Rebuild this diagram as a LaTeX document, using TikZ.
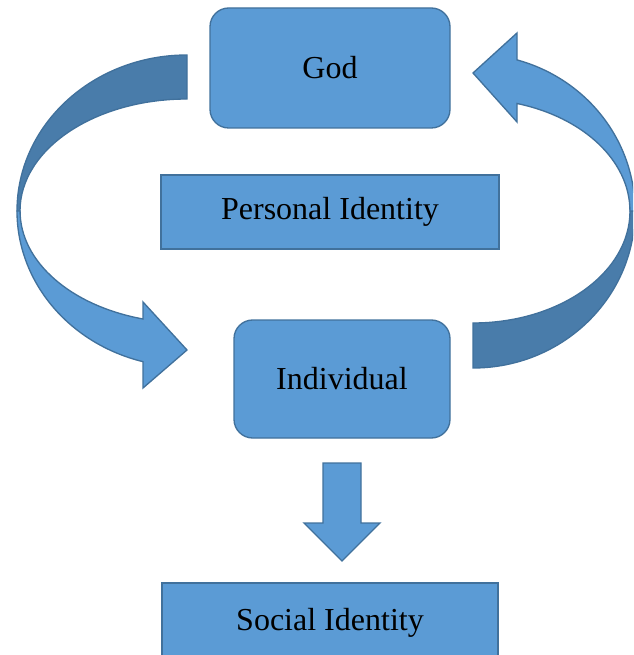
\documentclass[tikz,border=0pt]{standalone}
\usepackage{fontspec}
\setmainfont{Liberation Serif}
\usetikzlibrary{positioning}
\definecolor{boxblue}{HTML}{5B9BD5}
\definecolor{edgeblue}{HTML}{41719C}
\colorlet{backblue}{boxblue!80!black}

\begin{document}
\begin{tikzpicture}[x=0.75pt, y=-0.75pt,
    box/.style={draw=edgeblue, fill=boxblue, line width=1pt, inner sep=0pt,
        font=\fontsize{24}{29}\selectfont},
    roundbox/.style={box, rounded corners=14pt},
    band/.style={draw=edgeblue, line width=1pt}]
    \useasboundingbox (0,0) rectangle (633,655);
    \clip (0,0) rectangle (633,655);

    \node[roundbox, minimum width=180pt, minimum height=90pt] (G) at (330,68) {God};
    \node[box, minimum width=253.5pt, minimum height=55.5pt] (P) at (330,212) {Personal Identity};
    \node[roundbox, minimum width=162pt, minimum height=88.5pt] (I) at (342,379) {Individual};
    \node[box, minimum width=252pt, minimum height=60pt] (S) at (330,623) {Social Identity};

    % left arrow: back side, then front side with head
    \filldraw[band, fill=backblue] (187,55)
        arc[start angle=270, end angle=180, x radius=170, y radius=156] -- (20,211)
        arc[start angle=180, end angle=270, x radius=167, y radius=112] -- cycle;
    \filldraw[band, fill=boxblue] (17,211)
        arc[start angle=180, end angle=105, x radius=170, y radius=156]
        -- (143,388) -- (187,350) -- (143,302) -- (143,319)
        arc[start angle=105.3, end angle=180, x radius=167, y radius=112] -- cycle;

    % right arrow
    \filldraw[band, fill=backblue] (473,368)
        arc[start angle=90, end angle=0, x radius=162, y radius=157] -- (630,211)
        arc[start angle=0, end angle=90, x radius=157, y radius=112] -- cycle;
    \filldraw[band, fill=boxblue] (635,211)
        arc[start angle=0, end angle=-74.24, x radius=162, y radius=157]
        -- (517,33) -- (473,73) -- (517,122) -- (517,103.5)
        arc[start angle=-73.7, end angle=0, x radius=157, y radius=112] -- cycle;

    % down arrow
    \filldraw[band, fill=boxblue] (323,463) -- (361,463) -- (361,523) -- (380,523)
        -- (342,561) -- (304,523) -- (323,523) -- cycle;
\end{tikzpicture}
\end{document}
